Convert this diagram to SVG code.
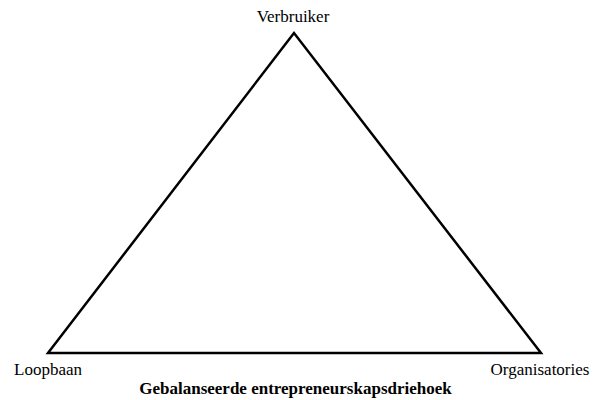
<svg xmlns="http://www.w3.org/2000/svg" width="603" height="400" viewBox="0 0 603 400">
<style>
text{font-family:"Liberation Serif","DejaVu Serif",serif;font-size:17px;fill:#000}
.t{font-weight:bold}
.edge{fill:none;stroke:#000;stroke-width:2.5;stroke-linejoin:miter}
</style>
<rect width="603" height="400" fill="#fff"/>
<g id="connectors">
<polygon class="edge" points="294,33 48,353 541,353"/>
</g>
<g id="node-verbruiker"><text x="293" y="22" text-anchor="middle">Verbruiker</text></g>
<g id="node-loopbaan"><text x="48" y="375" text-anchor="middle">Loopbaan</text></g>
<g id="node-organisatories"><text x="540" y="375" text-anchor="middle">Organisatories</text></g>
<g id="title"><text class="t" x="295.5" y="394" text-anchor="middle">Gebalanseerde entrepreneurskapsdriehoek</text></g>
</svg>
